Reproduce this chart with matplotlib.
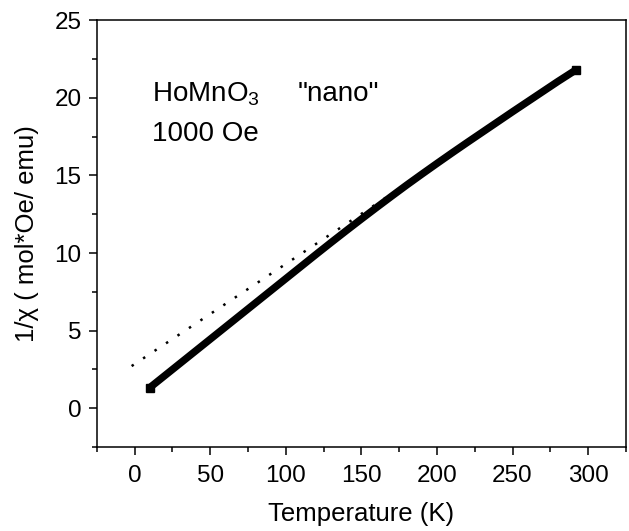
"""Inverse susceptibility of nano HoMnO3 at 1000 Oe with Curie-Weiss fit line."""

import matplotlib

matplotlib.use("Agg")
import matplotlib.pyplot as plt
from matplotlib.ticker import MultipleLocator

plt.rcParams.update({
    "font.family": ["Liberation Sans", "DejaVu Sans"],
    "mathtext.fontset": "custom",
    "mathtext.rm": "Liberation Sans",
    "mathtext.it": "Liberation Sans:italic",
})

# measured 1/chi vs temperature
temp = [10, 20, 30, 40, 50, 60, 70, 80, 90, 100, 110, 120, 130, 140, 150,
        160, 170, 180, 190, 200, 210, 220, 230, 240, 250, 260, 270, 280, 292]
inv_chi = [1.33, 2.11, 2.89, 3.67, 4.45, 5.23, 6.01, 6.79, 7.57, 8.35, 9.13,
           9.91, 10.68, 11.44, 12.19, 12.93, 13.66, 14.38, 15.08, 15.77, 16.45,
           17.12, 17.78, 18.44, 19.1, 19.75, 20.4, 21.05, 21.8]

# linear (Curie-Weiss) fit, drawn dotted
fit_t = [-2, 292]
fit_y = [2.72, 21.68]

fig = plt.figure(figsize=(6.29, 5.31), dpi=100)
ax = fig.add_axes([0.154, 0.158, 0.841, 0.804])

ax.plot(fit_t, fit_y, color="black", lw=1.8, ls=(0, (1, 4.5)))
ax.plot(temp, inv_chi, color="black", lw=5.3, solid_capstyle="butt",
        solid_joinstyle="round")
ax.plot(temp[:1] + temp[-1:], inv_chi[:1] + inv_chi[-1:], ls="none",
        marker="s", ms=6, color="black")

ax.set_xlim(-25, 325)
ax.set_ylim(-2.5, 25)
ax.xaxis.set_major_locator(MultipleLocator(50))
ax.xaxis.set_minor_locator(MultipleLocator(25))
ax.yaxis.set_major_locator(MultipleLocator(5))
ax.yaxis.set_minor_locator(MultipleLocator(2.5))
ax.tick_params(which="major", length=6, width=1.1, labelsize=17.5, direction="out")
ax.tick_params(which="minor", length=3.5, width=1.1, direction="out")
ax.tick_params(axis="x", pad=7)
ax.tick_params(axis="y", pad=5)
for sp in ax.spines.values():
    sp.set_linewidth(1.1)

ax.set_xlabel("Temperature (K)", fontsize=18.5, labelpad=11)
ax.set_ylabel("1/χ ( mol*Oe/ emu)", fontsize=18.5, labelpad=11)

ax.text(11.5, 19.77, r"HoMnO$_3$", fontsize=20)
ax.text(107.6, 19.77, '"nano"', fontsize=20)
ax.text(11.5, 17.24, "1000 Oe", fontsize=20)

fig.savefig("out.png", dpi=100)
